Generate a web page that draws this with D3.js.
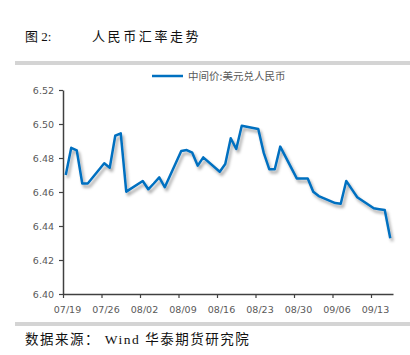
<!DOCTYPE html>
<html>
<head>
<meta charset="utf-8">
<script src="https://cdn.jsdelivr.net/npm/d3@7"></script>
<style>
  body { margin: 0; background: #fff; }
  svg { display: block; }
</style>
</head>
<body>
<div id="chart"></div>
<script>
(function(){
    'use strict';

    // trading days, 2021
    var dates = [
        "07/19","07/20","07/21","07/22","07/23",
        "07/26","07/27","07/28","07/29","07/30",
        "08/02","08/03","08/04","08/05","08/06",
        "08/09","08/10","08/11","08/12","08/13",
        "08/16","08/17","08/18","08/19","08/20",
        "08/23","08/24","08/25","08/26","08/27",
        "08/30","08/31","09/01","09/02","09/03",
        "09/06","09/07","09/08","09/09","09/10",
        "09/13","09/14","09/15","09/16"
    ];
    var midRate = [
        6.4700, 6.4860, 6.4845, 6.4650, 6.4650,
        6.4769, 6.4743, 6.4931, 6.4945, 6.4602,
        6.4665, 6.4616, 6.4650, 6.4686, 6.4628,
        6.4841, 6.4847, 6.4831, 6.4755, 6.4804,
        6.4719, 6.4765, 6.4916, 6.4853, 6.4990,
        6.4971, 6.4830, 6.4734, 6.4734, 6.4867,
        6.4680, 6.4680, 6.4680, 6.4602, 6.4576,
        6.4535, 6.4531, 6.4665, 6.4617, 6.4569,
        6.4504, 6.4499, 6.4494, 6.4328
    ];
    var xTickLabels = ["07/19","07/26","08/02","08/09","08/16","08/23","08/30","09/06","09/13"];
    var yTicks = [6.40, 6.42, 6.44, 6.46, 6.48, 6.50, 6.52];
    var seriesName = "中间价:美元兑人民币";

    var width = 410, height = 355;
    var parse = d3.timeParse("%Y/%m/%d");
    function toDate(s) { return parse("2021/" + s); }
    var halfDay = 12 * 3600 * 1000;

    var svg = d3.select("#chart").append("svg")
        .attr("width", width)
        .attr("height", height);

    var defs = svg.append("defs");
    var f = defs.append("filter").attr("id", "shadow")
        .attr("x", "-10%").attr("y", "-10%").attr("width", "120%").attr("height", "130%");
    f.append("feDropShadow")
        .attr("dx", 2).attr("dy", 3).attr("stdDeviation", 1.6)
        .attr("flood-color", "#000").attr("flood-opacity", 0.35);

    // title
    svg.append("text").attr("x", 25).attr("y", 41)
        .style("font-family", "'Liberation Serif', 'Noto Sans CJK SC', serif")
        .style("font-size", "13px").attr("fill", "#111")
        .text("图 2:");
    svg.append("text").attr("x", 92).attr("y", 41)
        .style("font-family", "'Noto Sans CJK SC', serif")
        .style("font-size", "13px").style("letter-spacing", "2.6px").attr("fill", "#111")
        .text("人民币汇率走势");

    // separator bars
    svg.append("rect").attr("x", 15).attr("y", 61).attr("width", 395).attr("height", 4).attr("fill", "#d4d4d4");
    svg.append("rect").attr("x", 15).attr("y", 322).attr("width", 395).attr("height", 4).attr("fill", "#d4d4d4");

    // footer
    svg.append("text").attr("x", 25).attr("y", 344)
        .style("font-family", "'Liberation Serif', 'Noto Sans CJK SC', serif")
        .style("font-size", "13.5px").style("letter-spacing", "1.5px").attr("fill", "#111")
        .text("数据来源： Wind 华泰期货研究院");

    var x = d3.scaleTime()
        .domain([toDate("07/19"), toDate("09/17")])
        .range([63, 393]);
    var y = d3.scaleLinear()
        .domain([6.40, 6.52])
        .range([294, 90]);

    var axisColor = "#404040";
    var labelColor = "#595959";
    var tickFont = "'DejaVu Sans', Verdana, sans-serif";

    var gx = svg.append("g")
        .attr("transform", "translate(0,294)")
        .call(d3.axisBottom(x)
            .tickValues(xTickLabels.map(toDate))
            .tickFormat(d3.timeFormat("%m/%d"))
            .tickSize(4).tickSizeOuter(0));
    gx.select(".domain").attr("stroke", axisColor).attr("stroke-width", 1.5);
    gx.selectAll(".tick line").attr("stroke", axisColor).attr("stroke-width", 1.2);
    gx.selectAll(".tick text")
        .attr("fill", labelColor).attr("dx", 4).attr("y", 12)
        .style("font-family", tickFont).style("font-size", "9.5px");

    var gy = svg.append("g")
        .attr("transform", "translate(63,0)")
        .call(d3.axisLeft(y)
            .tickValues(yTicks)
            .tickFormat(d3.format(".2f"))
            .tickSize(4).tickSizeOuter(0));
    gy.select(".domain").attr("stroke", axisColor).attr("stroke-width", 1.5);
    gy.selectAll(".tick line").attr("stroke", axisColor).attr("stroke-width", 1.2);
    gy.selectAll(".tick text")
        .attr("fill", labelColor).attr("x", -9)
        .style("font-family", tickFont).style("font-size", "9.5px");

    var rows = dates.map(function(d, i) {
        return { date: new Date(toDate(d).getTime() + halfDay), value: midRate[i] };
    });

    var line = d3.line()
        .x(function(d) { return x(d.date); })
        .y(function(d) { return y(d.value); });

    svg.append("path")
        .datum(rows)
        .attr("d", line)
        .attr("fill", "none")
        .attr("stroke", "#0070C0")
        .attr("stroke-width", 2.5)
        .attr("stroke-linejoin", "round")
        .attr("filter", "url(#shadow)");

    // legend
    var lg = svg.append("g").attr("transform", "translate(152,76)");
    lg.append("line").attr("x1", 0).attr("x2", 31).attr("y1", 0).attr("y2", 0)
        .attr("stroke", "#0070C0").attr("stroke-width", 2.5);
    lg.append("text").attr("x", 36).attr("y", 4)
        .style("font-family", "'Noto Sans CJK SC', sans-serif")
        .style("font-size", "10.5px").attr("fill", labelColor)
        .text(seriesName);
})()
</script>
</body>
</html>
